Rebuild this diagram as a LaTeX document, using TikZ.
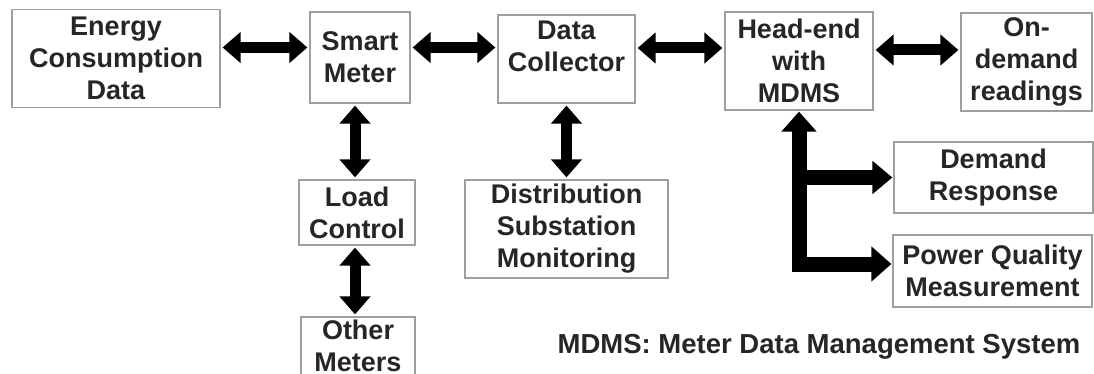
\documentclass[tikz,border=0pt]{standalone}
\usepackage{fontspec}
\setmainfont{Liberation Sans}
\usepackage{tikz}
\usetikzlibrary{arrows.meta}

\begin{document}
\begin{tikzpicture}[x=1pt, y=-1pt, line join=miter,
        dbl/.style={line width=11pt, {Triangle[length=18pt,width=30pt]}-{Triangle[length=18pt,width=30pt]}, shorten <=2pt, shorten >=2pt},
        fat/.style={line width=15pt, {Triangle[length=20pt,width=34pt]}-{Triangle[length=20pt,width=34pt]}, shorten <=1pt, shorten >=1pt},
        fatone/.style={line width=15pt, -{Triangle[length=20pt,width=32pt]}, shorten >=1pt}]
        \tikzstyle{block}=[draw=gray!75, line width=1.2pt, fill=white, inner sep=0pt, align=center, text=black!85, font=\fontsize{27}{32}\selectfont\bfseries]

        \useasboundingbox (0,0) rectangle (1094,374);

        % top row
        \node[block, minimum width=208pt, minimum height=98pt] (ecd) at (116,58.5) {Energy\\Consumption\\Data};
        \node[block, minimum width=100pt, minimum height=91pt] (sm) at (360,57.5) {Smart\\Meter};
        \node[block, minimum width=137pt, minimum height=88pt] (dc) at (566.5,59) {Data\\Collector\\[-6pt]};
        \node[block, minimum width=148pt, minimum height=98pt] (he) at (799,61) {Head-end\\with\\MDMS};
        \node[block, minimum width=131pt, minimum height=98pt] (od) at (1026.5,62) {On-\\demand\\readings};

        % lower boxes
        \node[block, minimum width=116pt, minimum height=65pt] (lc) at (357,212.5) {Load\\Control};
        \node[block, minimum width=114pt, minimum height=58pt] (om) at (358,346) {Other\\Meters};
        \node[block, minimum width=203pt, minimum height=98pt] (dsm) at (566.5,229) {Distribution\\Substation\\Monitoring};
        \node[block, minimum width=199pt, minimum height=71pt] (dr) at (993.5,177.5) {Demand\\Response};
        \node[block, minimum width=199pt, minimum height=72pt] (pq) at (992.5,271) {Power Quality\\Measurement};

        \node[text=black!85, font=\fontsize{27.5}{32}\selectfont\bfseries] (note) at (819,347) {MDMS: Meter Data Management System};

        % arrows
        \draw[dbl] ([yshift=11pt]ecd.east) -- ([yshift=11pt]ecd.east -| sm.west);
        \draw[dbl] ([yshift=10pt]sm.east) -- ([yshift=10pt]sm.east -| dc.west);
        \draw[dbl] ([yshift=11pt]dc.east) -- ([yshift=11pt]dc.east -| he.west);
        \draw[dbl] ([yshift=11pt]he.east) -- ([yshift=11pt]he.east -| od.west);
        \draw[dbl] ([xshift=-5pt]sm.south) -- ([xshift=-5pt]sm.south |- lc.north);
        \draw[dbl] ([xshift=-2pt]lc.south) -- ([xshift=-2pt]lc.south |- om.north);
        \draw[dbl] (dc.south) -- (dc.south |- dsm.north);

        \draw[fat] ([yshift=7pt]pq.west) -| (he.south);
        \draw[fatone] (he.south |- dr.west) -- (dr.west);
\end{tikzpicture}
\end{document}
